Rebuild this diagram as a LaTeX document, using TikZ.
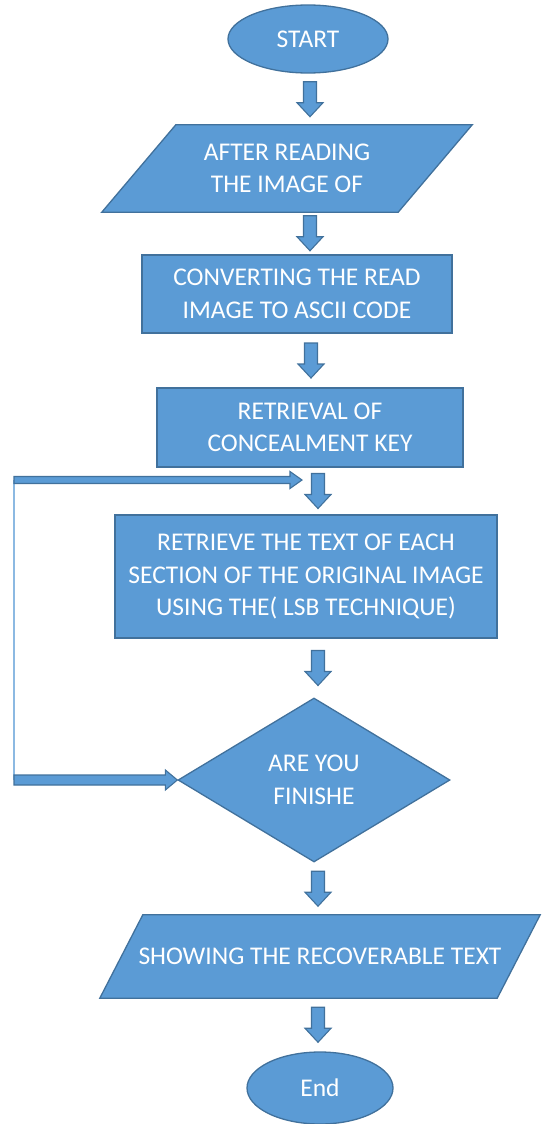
\documentclass[tikz,border=0pt]{standalone}
\usepackage{fontspec}
\setmainfont{Carlito}
\usetikzlibrary{shapes.geometric,calc,backgrounds}
\definecolor{boxfill}{HTML}{5B9BD5}
\definecolor{boxline}{HTML}{41719C}
\tikzset{
  base/.style={fill=boxfill, draw=boxline, line width=1.3pt, text=white,
    font=\fontsize{25.5}{32.5}\selectfont, align=center, inner sep=0pt},
  term/.style={base, ellipse},
  procbox/.style={base, rectangle},
  iotext/.style={text=white, font=\fontsize{25.5}{32.5}\selectfont, align=center,
    inner sep=0pt, rectangle},
  ioshape/.style={fill=boxfill, draw=boxline, line width=1.3pt, line join=miter},
  decbox/.style={base, diamond},
  blockarrow/.style={fill=boxfill, draw=boxline, line width=1.1pt, line join=miter},
  thinconn/.style={draw=boxline, line width=0.5pt, double=boxfill!70!white, double distance=1.2pt},
}
% vertical block arrow at x=#1 (pt), centred in the gap between node #2 (above) and node #3 (below)
\newcommand\flowarrow[3]{%
  \path let \p1=($(#2.south)!0.5!(#3.north)$) in
    coordinate (fa-s) at (#1pt,\y1+17.5pt) coordinate (fa-e) at (#1pt,\y1-17.5pt);
  \filldraw[blockarrow] ($(fa-s)+(-6.5pt,0pt)$) -- ($(fa-e)+(-6.5pt,14pt)$)
    -- ($(fa-e)+(-13pt,14pt)$) -- (fa-e) -- ($(fa-e)+(13pt,14pt)$)
    -- ($(fa-e)+(6.5pt,14pt)$) -- ($(fa-s)+(6.5pt,0pt)$) -- cycle;
}
% horizontal block arrow from #1 to #2; #3 shaft half width, #4 head half width, #5 head length
\newcommand\hblock[5]{%
  \filldraw[blockarrow] ($(#1)+(0pt,#3)$) -- ($(#2)+(-#5,#3)$) -- ($(#2)+(-#5,#4)$)
    -- (#2) -- ($(#2)+(-#5,-#4)$) -- ($(#2)+(-#5,-#3)$) -- ($(#1)+(0pt,-#3)$) -- cycle;
}
% parallelogram behind a text node #1 with slant #2 (pt)
\newcommand\iopara[2]{%
  \begin{scope}[on background layer]
    \filldraw[ioshape] ($(#1.north west)+(#2,0pt)$) -- (#1.north east)
      -- ($(#1.south east)+(-#2,0pt)$) -- (#1.south west) -- cycle;
  \end{scope}
}
\begin{document}
\begin{tikzpicture}[x=1pt,y=-1pt]
\useasboundingbox (0,0) rectangle (542,1124);

\node[term, minimum width=160, minimum height=68] (start) at (308,39) {START};
\node[iotext, minimum width=370, minimum height=87] (p1) at (287,168.5)
      {AFTER READING\\THE IMAGE OF};
\iopara{p1}{74pt}
\node[procbox, minimum width=310, minimum height=78] (r2) at (297,294)
      {CONVERTING THE READ\\IMAGE TO ASCII CODE};
\node[procbox, minimum width=306, minimum height=79] (r3) at (310,427.5)
      {RETRIEVAL OF\\CONCEALMENT KEY};
\node[procbox, minimum width=382, minimum height=123] (r4) at (306,576.5)
      {RETRIEVE THE TEXT OF EACH\\SECTION OF THE ORIGINAL IMAGE\\USING THE( LSB TECHNIQUE)};
\node[decbox, minimum width=272, minimum height=164] (d) at (314,780)
      {ARE YOU\\FINISHE};
\node[iotext, minimum width=440, minimum height=83] (p2) at (320,956.5)
      {SHOWING THE RECOVERABLE TEXT};
\iopara{p2}{43pt}
\node[term, minimum width=146, minimum height=72] (end) at (320,1088) {End};

\flowarrow{310}{start}{p1}
\flowarrow{310}{p1}{r2}
\flowarrow{311}{r2}{r3}
\flowarrow{318}{r3}{r4}
\flowarrow{318}{r4}{d}
\flowarrow{318}{d}{p2}
\flowarrow{318}{p2}{end}

% loop back connector
\coordinate (lt) at (14,480);
\coordinate (lb) at (14,780);
\coordinate (ltip) at (302,480);
\draw[thinconn] (lt) -- (lb);
\hblock{lt}{ltip}{3.5pt}{8.5pt}{12pt}
\hblock{lb}{d.west}{5pt}{10pt}{12pt}
\end{tikzpicture}
\end{document}
